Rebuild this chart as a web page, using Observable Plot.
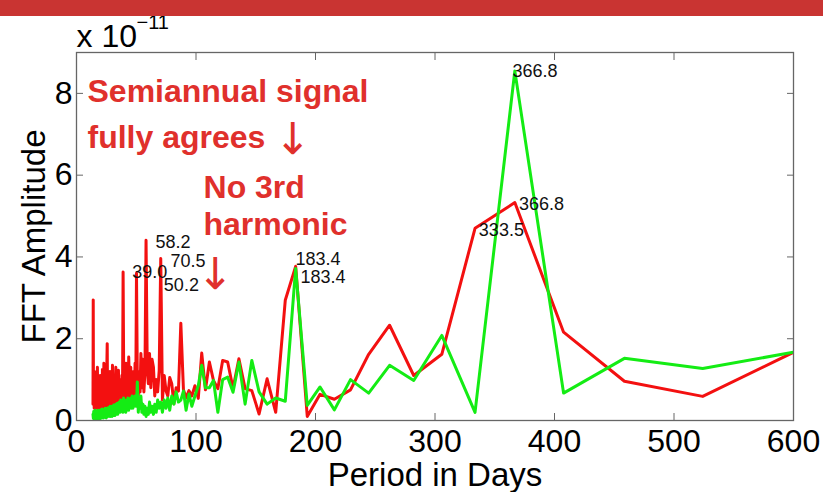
<!DOCTYPE html>
<html>
<head>
<meta charset="utf-8">
<script src="https://cdn.jsdelivr.net/npm/d3@7"></script>
<script src="https://cdn.jsdelivr.net/npm/@observablehq/plot@0.6"></script>
<style>
html, body { margin: 0; padding: 0; background: #fff; }
#wrap { position: relative; width: 823px; height: 492px; overflow: hidden; }
#bar { position: absolute; left: 0; top: 0; width: 823px; height: 16px; background: #c93432; }
#chart { position: absolute; left: 0; top: 0; }
</style>
</head>
<body>
<div id="wrap"><div id="chart"></div><div id="bar"></div></div>
<script>
// ---- data (period in days, FFT amplitude x 1e-11) ----
// harmonic periods (long-period part, shared by both series)
const harmonicPeriod = [50.2, 50.9, 51.7, 52.4, 53.2, 53.9, 54.7, 55.6, 56.4, 57.3, 58.2, 59.2, 60.1, 61.1, 62.2, 63.2, 64.4, 65.5, 66.7, 67.9, 69.2, 70.5, 71.9, 73.4, 74.9, 76.4, 78.0, 79.7, 81.5, 83.4, 85.3, 87.3, 89.5, 91.7, 94.1, 96.5, 99.1, 101.9, 104.8, 107.9, 111.2, 114.6, 118.3, 122.3, 126.5, 131.0, 135.9, 141.1, 146.7, 152.8, 159.5, 166.7, 174.7, 183.4, 193.1, 203.8, 215.8, 229.3, 244.5, 262.0, 282.2, 305.7, 333.5, 366.8, 407.6, 458.5, 524.0, 611.3];
const redLongAmp = [3.6, 1.0, 0.6, 1.2, 0.7, 1.64, 0.8, 1.5, 0.7, 1.2, 4.41, 1.3, 0.9, 1.64, 0.8, 1.5, 1.3, 0.6, 1.0, 0.7, 1.22, 3.96, 0.5, 1.1, 0.73, 0.6, 1.05, 0.9, 0.41, 0.8, 0.72, 2.38, 0.75, 0.55, 0.73, 0.6, 0.85, 0.54, 1.65, 0.75, 1.43, 0.98, 0.78, 1.47, 1.43, 0.78, 1.51, 0.78, 0.73, 0.16, 1.02, 0.2, 2.94, 3.77, 0.1, 0.64, 0.52, 0.75, 1.62, 2.33, 1.10, 1.62, 4.70, 5.33, 2.16, 0.96, 0.59, 1.83];
const greenLongAmp = [0.4, 0.94, 0.2, 0.45, 0.3, 0.6, 0.2, 0.4, 0.15, 0.35, 0.1, 0.3, 0.15, 0.45, 0.2, 0.35, 0.15, 0.4, 0.2, 0.5, 0.3, 0.45, 0.2, 0.5, 0.3, 0.55, 0.25, 0.6, 0.4, 0.7, 0.45, 0.5, 0.72, 0.25, 0.65, 0.35, 0.6, 0.85, 1.35, 0.8, 0.8, 0.98, 0.2, 1.0, 1.06, 0.69, 1.43, 0.4, 1.47, 0.7, 0.4, 0.55, 0.47, 3.72, 0.37, 0.82, 0.26, 1.0, 0.67, 1.35, 0.98, 2.08, 0.2, 8.55, 0.67, 1.52, 1.27, 1.73];

// short-period (dense) part, [period, amplitude]
const redShort = [[13.8,0.4],[14.0,2.95],[14.2,0.5],[14.5,1.0],[14.8,0.3],[15.1,1.2],[15.4,0.35],[15.7,0.9],[16.0,0.3],[16.3,1.1],[16.6,0.4],[16.9,0.8],[17.2,0.3],[17.5,1.3],[17.8,0.35],[18.1,0.9],[18.4,0.3],[18.7,1.0],[19.0,0.4],[19.3,0.85],[19.6,0.3],[19.9,1.1],[20.2,0.35],[20.5,0.9],[20.8,0.3],[21.1,1.0],[21.4,0.4],[21.7,1.25],[22.0,0.35],[22.3,0.9],[22.6,0.3],[22.9,1.4],[23.2,0.4],[23.5,0.95],[23.8,0.3],[24.1,1.05],[24.4,0.35],[24.7,0.9],[25.0,0.4],[25.3,1.2],[25.7,1.88],[26.0,0.5],[26.3,1.0],[26.6,0.3],[26.9,1.1],[27.2,0.4],[27.5,0.9],[27.8,0.3],[28.1,1.2],[28.4,0.4],[28.7,0.85],[29.0,0.3],[29.3,1.0],[29.6,0.45],[29.9,0.9],[30.1,1.35],[30.4,0.4],[30.7,1.0],[31.0,0.35],[31.3,1.1],[31.6,0.4],[31.9,0.9],[32.2,0.35],[32.5,1.0],[32.9,1.3],[33.2,0.5],[33.5,1.0],[33.8,0.35],[34.1,0.9],[34.4,0.4],[34.7,1.0],[35.1,1.23],[35.5,0.4],[36.0,1.0],[36.5,0.35],[37.0,0.9],[37.5,0.4],[38.0,1.1],[38.5,0.6],[39.0,3.63],[39.5,1.1],[40.0,0.5],[40.5,1.2],[41.0,0.6],[41.5,1.4],[42.1,0.5],[42.6,1.2],[43.2,0.4],[43.7,1.55],[44.2,1.0],[44.8,0.5],[45.4,1.3],[46.0,0.45],[46.6,1.1],[47.2,0.6],[47.8,1.2],[48.4,0.5],[49.0,1.4],[49.6,0.7]];
const greenShort = [[13.8,0.15],[14.1,0.05],[14.4,0.22],[14.7,0.06],[15.0,0.2],[15.3,0.04],[15.6,0.25],[15.9,0.08],[16.2,0.2],[16.5,0.05],[16.8,0.22],[17.1,0.06],[17.4,0.18],[17.7,0.04],[18.0,0.25],[18.3,0.07],[18.6,0.2],[18.9,0.05],[19.2,0.24],[19.5,0.08],[19.8,0.22],[20.1,0.05],[20.4,0.26],[20.7,0.08],[21.0,0.2],[21.3,0.06],[21.6,0.28],[21.9,0.1],[22.2,0.24],[22.5,0.06],[22.8,0.26],[23.1,0.1],[23.4,0.22],[23.7,0.08],[24.0,0.3],[24.3,0.1],[24.6,0.25],[24.9,0.06],[25.2,0.28],[25.5,0.12],[25.8,0.3],[26.1,0.1],[26.4,0.3],[26.7,0.12],[27.0,0.32],[27.3,0.1],[27.6,0.28],[27.9,0.12],[28.2,0.35],[28.5,0.1],[28.8,0.3],[29.1,0.14],[29.4,0.32],[29.7,0.1],[30.0,0.35],[30.3,0.15],[30.6,0.3],[30.9,0.12],[31.2,0.38],[31.5,0.15],[31.8,0.35],[32.1,0.12],[32.4,0.36],[32.7,0.15],[33.0,0.4],[33.3,0.18],[33.6,0.35],[33.9,0.15],[34.2,0.42],[34.5,0.15],[34.8,0.38],[35.2,0.2],[35.8,0.45],[36.4,0.2],[37.0,0.5],[37.6,0.25],[38.2,0.5],[38.8,0.2],[39.4,0.55],[40.0,0.25],[40.6,0.45],[41.2,0.2],[41.8,0.5],[42.4,0.25],[43.0,0.55],[43.6,0.25],[44.2,0.5],[44.8,0.3],[45.4,0.55],[46.0,0.3],[46.6,0.6],[47.2,0.3],[47.8,0.55],[48.4,0.35],[49.0,0.6],[49.6,0.35]];

// axes
const xTicks = [0, 100, 200, 300, 400, 500, 600];
const yTicks = [0, 2, 4, 6, 8];
const xLabel = "Period in Days";
const yLabel = "FFT Amplitude";
const scaleText = "x 10";
const scaleExp = "\u221211";

// peak labels
const tipText = ["366.8", "366.8", "333.5", "183.4", "183.4", "58.2", "70.5", "39.0", "50.2"];
const tipX = [364.9, 370.2, 336.7, 183.3, 187.4, 66.1, 78.7, 46.6, 73.1];
const tipY = [8.53, 5.29, 4.66, 3.95, 3.51, 4.37, 3.9, 3.62, 3.31];

// red annotations
const noteText = ["Semiannual signal", "fully agrees", "No 3rd", "harmonic"];
const noteX = [9.2, 9.2, 106.3, 106.3];
const noteY = [7.80, 6.67, 5.45, 4.53];
const arrowX = [181.2, 116.3];
const arrowY = [6.86, 3.55];

// ---- build tables ----
const red = redShort.map(([p, a]) => ({period: p, amp: a}))
  .concat(harmonicPeriod.map((p, i) => ({period: p, amp: redLongAmp[i]})));
const green = greenShort.map(([p, a]) => ({period: p, amp: a}))
  .concat(harmonicPeriod.map((p, i) => ({period: p, amp: greenLongAmp[i]})));
const tips = tipText.map((t, i) => ({t, x: tipX[i], y: tipY[i]}));
const notes = noteText.map((t, i) => ({t, x: noteX[i], y: noteY[i]}));
const arrows = arrowX.map((x, i) => ({t: "\u2193", x, y: arrowY[i]}));

const FONT = "'Liberation Sans', Arial, Helvetica, sans-serif";
const AX = "#666";

const chart = Plot.plot({
  width: 823,
  height: 492,
  marginLeft: 76,
  marginRight: 30,
  marginTop: 52,
  marginBottom: 72,
  style: {fontFamily: FONT, background: "white", color: "black", overflow: "visible"},
  x: {domain: [0, 600]},
  y: {domain: [0, 9]},
  marks: [
    Plot.line(red, {x: "period", y: "amp", stroke: "#f31010", strokeWidth: 3, clip: true}),
    Plot.line(green, {x: "period", y: "amp", stroke: "#14ec14", strokeWidth: 3, clip: true}),
    Plot.frame({stroke: AX, strokeWidth: 1.3}),
    Plot.axisX({ticks: xTicks, tickSize: 0, tickPadding: 9, fontSize: 32, label: null, tickFormat: d => String(d)}),
    Plot.axisX({ticks: xTicks, tickSize: -7, fill: "none", stroke: AX, label: null}),
    Plot.axisX({ticks: xTicks, anchor: "top", tickSize: -7, fill: "none", stroke: AX, label: null}),
    Plot.axisY({ticks: yTicks, tickSize: 0, tickPadding: 4, fontSize: 32, label: null, tickFormat: d => String(d)}),
    Plot.axisY({ticks: yTicks, tickSize: -7, fill: "none", stroke: AX, label: null}),
    Plot.axisY({ticks: yTicks, anchor: "right", tickSize: -7, fill: "none", stroke: AX, label: null}),
    Plot.text([xLabel], {text: d => d, frameAnchor: "bottom", dy: 55, textAnchor: "middle", lineAnchor: "middle", fontSize: 33, fill: "black"}),
    Plot.text([yLabel], {text: d => d, frameAnchor: "left", dx: -42, rotate: -90, textAnchor: "middle", lineAnchor: "middle", fontSize: 33, fill: "black"}),
    Plot.text([scaleText], {text: d => d, frameAnchor: "top-left", dx: 0, dy: -6, textAnchor: "start", lineAnchor: "bottom", fontSize: 32, fill: "black"}),
    Plot.text([scaleExp], {text: d => d, frameAnchor: "top-left", dx: 60, dy: -24, textAnchor: "start", lineAnchor: "bottom", fontSize: 20, fill: "black"}),
    Plot.text(tips, {x: "x", y: "y", text: "t", textAnchor: "start", lineAnchor: "middle", fontSize: 18, fill: "#111"}),
    Plot.text(notes, {x: "x", y: "y", text: "t", textAnchor: "start", lineAnchor: "bottom", fontSize: 32, fontWeight: "bold", fill: "#e0302c"}),
    Plot.text(arrows, {x: "x", y: "y", text: "t", textAnchor: "middle", lineAnchor: "middle", fontSize: 44, fontFamily: "'DejaVu Sans', sans-serif", fill: "#e0302c"})
  ]
});
document.getElementById("chart").appendChild(chart);
</script>
</body>
</html>
